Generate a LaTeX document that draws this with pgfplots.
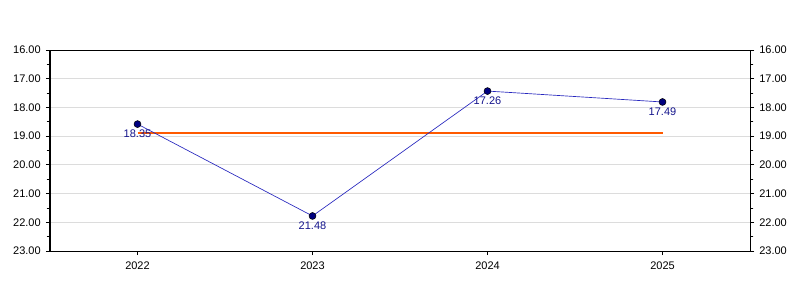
\documentclass[border=0pt]{standalone}
\usepackage{pgfplots}
\pgfplotsset{compat=1.18}
\usepackage{pgfplotstable}
\usepackage{fontspec}
\setmainfont{Liberation Sans}
\definecolor{gridgray}{RGB}{220,220,220}
\definecolor{linecol}{RGB}{40,40,190}
\definecolor{markcol}{RGB}{0,0,128}
\definecolor{labcol}{RGB}{20,20,140}
\definecolor{orangecol}{RGB}{255,90,0}
\pgfplotstableread{
x y lab
0 18.58 18.35
1 21.78 21.48
2 17.43 17.26
3 17.81 17.49
}\datatab
\begin{document}
\fontsize{8.25}{10}\selectfont
\begin{tikzpicture}[x=1pt,y=1pt]
\useasboundingbox (-37.5pt,-36.75pt) rectangle (562.5pt,188.25pt);
\begin{axis}[
  at={(0,0)}, anchor=south west,
  scale only axis,
  width=525pt, height=150.75pt,
  xmin=-0.5, xmax=3.5,
  ymin=16, ymax=23,
  y dir=reverse,
  xtick={0,1,2,3},
  xticklabels={2022,2023,2024,2025},
  ytick={16,17,...,23},
  minor ytick={16.5,17.5,...,22.5},
  yticklabel={\pgfmathprintnumber[fixed,fixed zerofill,precision=2]{\tick}},
  /pgf/number format/assume math mode=true,
  ymajorgrids,
  major grid style={gridgray, line width=0.75pt},
  tick align=outside,
  ytick pos=both,
  xtick pos=bottom,
  yticklabel pos=left,
  major tick length=3pt,
  minor tick length=2.5pt,
  tick style={black, line width=0.6pt},
  axis line style={black, line width=0.75pt},
  ticklabel style={font=\fontsize{8.25}{10}\selectfont},
  xticklabel style={yshift=-2pt},
  yticklabel style={xshift=-1pt},
  clip=false,
]
\addplot[orangecol, line width=1.5pt, forget plot] coordinates {(0,18.89) (3,18.89)};
\addplot[linecol, line width=0.5pt, mark=*, mark size=2.6pt,
  mark options={fill=markcol, draw=black, line width=0.4pt},
  nodes near coords, point meta=explicit symbolic,
  every node near coord/.append style={anchor=center, yshift=-7.5pt, text=labcol, font=\fontsize{8.25}{10}\selectfont}]
  table[x=x, y=y, meta=lab] {\datatab};
\end{axis}
\begin{axis}[
  at={(0,0)}, anchor=south west,
  scale only axis,
  width=525pt, height=150.75pt,
  xmin=-0.5, xmax=3.5,
  ymin=16, ymax=23,
  y dir=reverse,
  axis x line=none,
  axis y line*=right,
  ytick={16,17,...,23},
  minor ytick={16.5,17.5,...,22.5},
  yticklabel={\pgfmathprintnumber[fixed,fixed zerofill,precision=2]{\tick}},
  /pgf/number format/assume math mode=true,
  tick align=outside,
  major tick length=3pt,
  minor tick length=2.5pt,
  tick style={black, line width=0.6pt},
  axis line style={black, line width=0.75pt, -},
  ticklabel style={font=\fontsize{8.25}{10}\selectfont},
  yticklabel style={xshift=1pt},
]
\addplot[draw=none] coordinates {(0,16)};
\end{axis}
\end{tikzpicture}
\end{document}
